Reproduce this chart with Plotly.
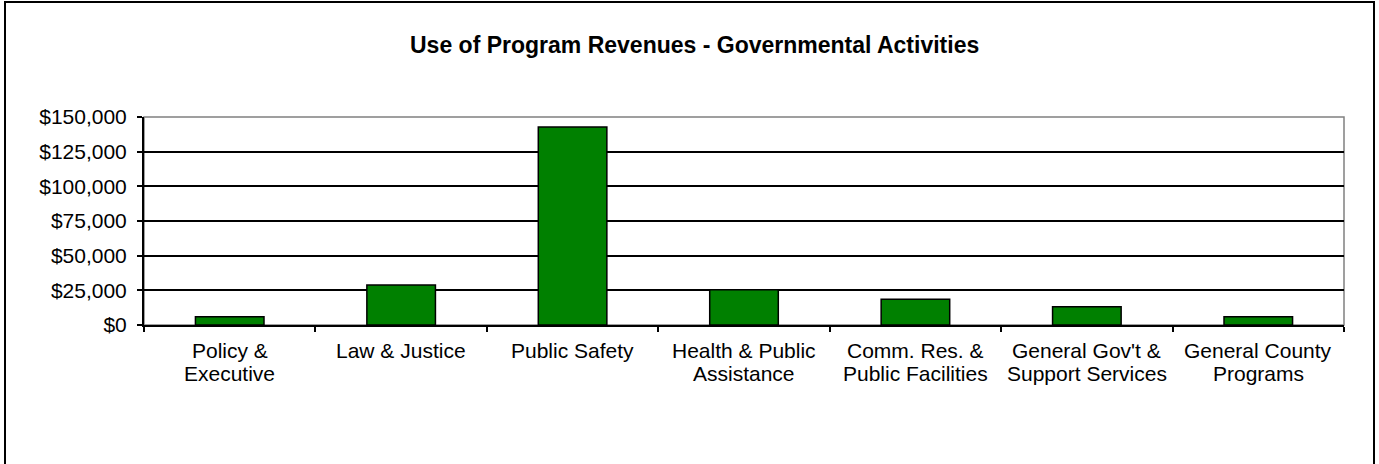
import plotly.graph_objects as go

# Program revenues by function (dollars, thousands)
categories = [
    "Policy & Executive",
    "Law & Justice",
    "Public Safety",
    "Health & Public Assistance",
    "Comm. Res. & Public Facilities",
    "General Gov't & Support Services",
    "General County Programs",
]
label_line1 = ["Policy &", "Law & Justice", "Public Safety", "Health & Public",
               "Comm. Res. &", "General Gov't &", "General County"]
label_line2 = ["Executive", "", "", "Assistance",
               "Public Facilities", "Support Services", "Programs"]
revenues = [6000, 28800, 142800, 25500, 18500, 13200, 6000]

y_ticks = [0, 25000, 50000, 75000, 100000, 125000, 150000]
y_tick_text = ["$0", "$25,000", "$50,000", "$75,000", "$100,000", "$125,000", "$150,000"]

W, H = 1379, 464
L, R, T, B = 144, 35, 117, 139
pw, ph = W - L - R, H - T - B

FONT = "Arial, Liberation Sans, sans-serif"


def px_to_paper_y(py):
    return (H - B - py) / ph


def px_to_paper_x(px):
    return (px - L) / pw


fig = go.Figure()
fig.add_trace(go.Bar(
    x=categories,
    y=revenues,
    width=0.4,
    marker=dict(color="#008000", line=dict(color="black", width=1.5)),
    hoverinfo="skip",
))

annotations = []
for cat, l1, l2 in zip(categories, label_line1, label_line2):
    annotations.append(dict(x=cat, y=0, xref="x", yref="paper", text=l1,
                            showarrow=False, yanchor="top", yshift=-12,
                            font=dict(family=FONT, size=21, color="black")))
    if l2:
        annotations.append(dict(x=cat, y=0, xref="x", yref="paper", text=l2,
                                showarrow=False, yanchor="top", yshift=-35,
                                font=dict(family=FONT, size=21, color="black")))

annotations.append(dict(
    x=px_to_paper_x(694), y=px_to_paper_y(45), xref="paper", yref="paper",
    text="<b>Use of Program Revenues - Governmental Activities</b>",
    showarrow=False, xanchor="center", yanchor="middle",
    font=dict(family=FONT, size=23, color="black"),
))

shapes = [
    # plot area border (top and right)
    dict(type="rect", xref="paper", yref="paper", x0=0, x1=1, y0=0, y1=1,
         line=dict(color="#808080", width=1.5), layer="below"),
    # chart area border
    dict(type="rect", xref="paper", yref="paper",
         x0=px_to_paper_x(5), x1=px_to_paper_x(1374),
         y0=px_to_paper_y(470), y1=px_to_paper_y(2),
         line=dict(color="black", width=2)),
]

fig.update_layout(
    width=W, height=H,
    margin=dict(l=L, r=R, t=T, b=B),
    paper_bgcolor="white", plot_bgcolor="white",
    showlegend=False,
    bargap=0.6,
    annotations=annotations,
    shapes=shapes,
    xaxis=dict(
        type="category",
        showticklabels=False,
        ticks="outside", tickson="boundaries", ticklen=5,
        tickcolor="black", tickwidth=1.5,
        showline=True, linecolor="black", linewidth=2,
        showgrid=False,
    ),
    yaxis=dict(
        range=[0, 150000],
        tickvals=y_ticks, ticktext=y_tick_text,
        ticks="outside", ticklen=5, tickcolor="black", tickwidth=1.5,
        ticklabelstandoff=6,
        showline=True, linecolor="black", linewidth=2,
        showgrid=True, gridcolor="black", gridwidth=1.5,
        zeroline=False,
        tickfont=dict(family=FONT, size=21, color="black"),
    ),
)

fig.write_html("out.html")
